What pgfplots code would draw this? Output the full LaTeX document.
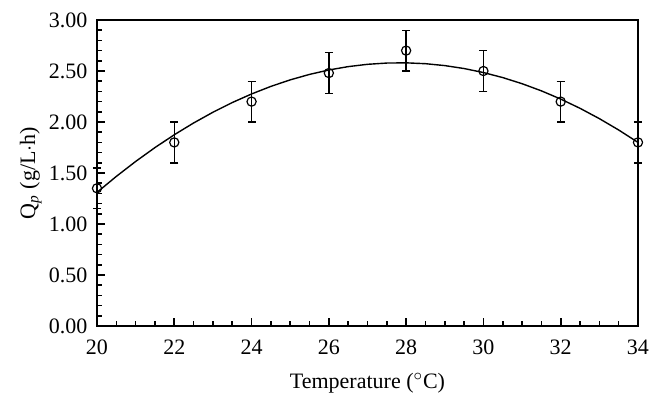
\documentclass[border=0pt]{standalone}
\usepackage{fontspec}
\setmainfont{Liberation Serif}
\usepackage{pgfplots}
\pgfplotsset{compat=1.18}
\begin{document}
\fontsize{11}{13}\selectfont
\begin{tikzpicture}
\useasboundingbox (-48.5pt,-38.5pt) rectangle (282pt,163pt);
\begin{axis}[
  at={(0,0)}, anchor=south west,
  scale only axis, width=270.5pt, height=153pt,
  xmin=20, xmax=34, ymin=0, ymax=3,
  xtick={20,22,...,34},
  ytick={0,0.5,...,3},
  minor x tick num=3, minor y tick num=4,
  tick align=inside,
  xtick pos=bottom, ytick pos=left,
  axis line style={line width=0.75pt},
  tick style={line width=0.8pt, black},
  major tick length=4pt, minor tick length=2.5pt,
  /pgf/number format/assume math mode=true,
  yticklabel style={/pgf/number format/.cd, fixed, fixed zerofill, precision=2},
  xticklabel style={/pgf/number format/.cd, fixed},
  xticklabel shift=3pt,
  yticklabel shift=1pt,
  xlabel={Temperature ($^\circ$C)},
  ylabel={Q\textsubscript{\textit{p}} (g/L$\cdot$h)},
  xlabel style={yshift=-2pt},
  ylabel style={yshift=-4pt},
  clip=false,
  axis on top,
]
\addplot[black, line width=0.7pt, no markers] coordinates {
(20,1.31) (20.5,1.4667) (21,1.6131) (21.5,1.7492) (22,1.875) (22.5,1.9905)
(23,2.0956) (23.5,2.1905) (24,2.275) (24.5,2.3492) (25,2.4131) (25.5,2.4667)
(26,2.51) (26.5,2.5430) (27,2.5656) (27.5,2.5780) (28,2.58) (28.5,2.5717)
(29,2.5531) (29.5,2.5242) (30,2.485) (30.5,2.4355) (31,2.3756) (31.5,2.3055)
(32,2.225) (32.5,2.1342) (33,2.0331) (33.5,1.9217) (34,1.80)
};
\addplot[black, only marks, mark=o, mark size=2.3pt, mark options={line width=0.6pt},
  error bars/.cd, y dir=both, y explicit,
  error mark options={rotate=90, mark size=2pt, line width=0.7pt},
  error bar style={line width=0.7pt}]
  coordinates {
(20,1.35) +- (0,0.2)
(22,1.80) +- (0,0.2)
(24,2.20) +- (0,0.2)
(26,2.48) +- (0,0.2)
(28,2.70) +- (0,0.2)
(30,2.50) +- (0,0.2)
(32,2.20) +- (0,0.2)
(34,1.80) +- (0,0.2)
};
\end{axis}
\end{tikzpicture}
\end{document}
